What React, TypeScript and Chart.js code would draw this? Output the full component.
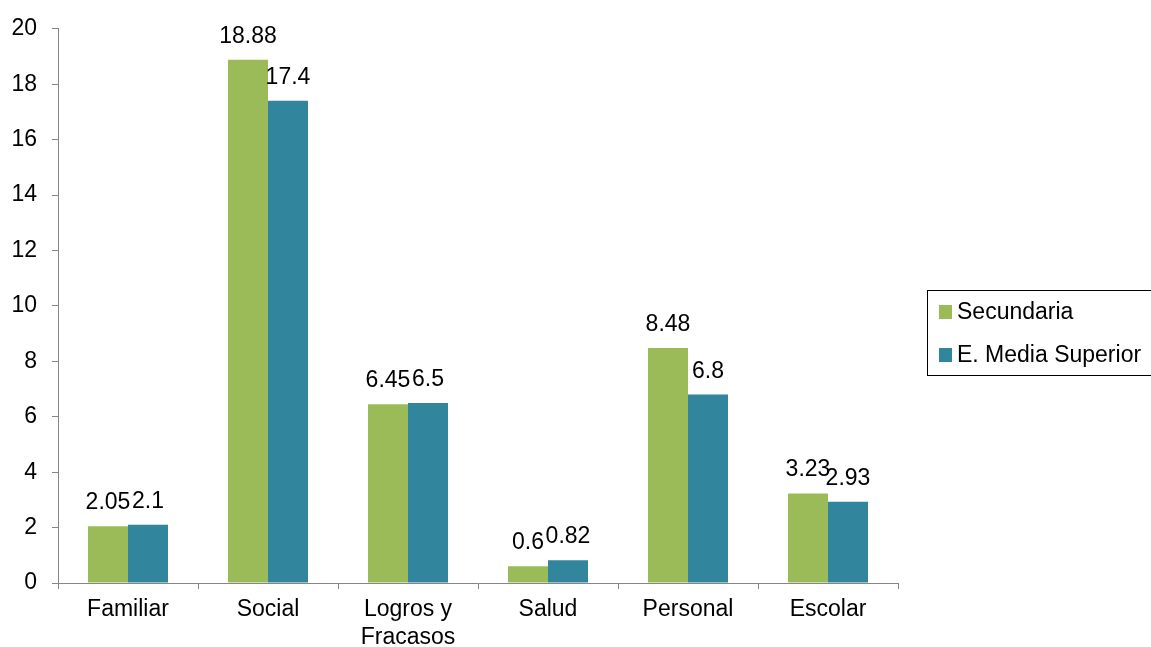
import React, { useEffect, useRef } from "react";
import { Chart, registerables } from "chart.js";

Chart.register(...registerables);

const categories: (string | string[])[] = ["Familiar", "Social", ["Logros y", "Fracasos"], "Salud", "Personal", "Escolar"];
const secundaria = [2.05, 18.88, 6.45, 0.6, 8.48, 3.23];
const mediaSuperior = [2.1, 17.4, 6.5, 0.82, 6.8, 2.93];
const seriesNames = ["Secundaria", "E. Media Superior"];
const seriesColors = ["#9BBB59", "#31859C"];
const yTickMin = 0;
const yTickMax = 20;
const yTickStep = 2;

const FONT = "'Liberation Sans', Arial, sans-serif";
const FS = 23;

const dataLabelPlugin = {
  id: "dataLabels",
  afterDatasetsDraw(chart: any) {
    const ctx = chart.ctx;
    ctx.save();
    ctx.font = `${FS}px ${FONT}`;
    ctx.fillStyle = "#000";
    ctx.textAlign = "center";
    ctx.textBaseline = "alphabetic";
    chart.data.datasets.forEach((ds: any, i: number) => {
      const meta = chart.getDatasetMeta(i);
      meta.data.forEach((bar: any, j: number) => {
        ctx.fillText(String(ds.data[j]), bar.x, bar.y - 17);
      });
    });
    ctx.restore();
  },
};

const legendBoxPlugin = {
  id: "legendBox",
  afterDraw(chart: any) {
    const ctx = chart.ctx;
    ctx.save();
    ctx.strokeStyle = "#000";
    ctx.lineWidth = 1;
    ctx.strokeRect(927.5, 290.5, 240, 85);
    ctx.font = `${FS}px ${FONT}`;
    ctx.textBaseline = "middle";
    ctx.textAlign = "left";
    chart.data.datasets.forEach((ds: any, i: number) => {
      const cy = 312 + i * 43;
      ctx.fillStyle = ds.backgroundColor;
      ctx.fillRect(939, cy - 7, 13, 14);
      ctx.fillStyle = "#000";
      ctx.fillText(ds.label, 957, cy + 1);
    });
    ctx.restore();
  },
};

export default function App() {
  const ref = useRef<HTMLCanvasElement>(null);
  useEffect(() => {
    if (!ref.current) return;
    const chart = new Chart(ref.current, {
      type: "bar",
      data: {
        labels: categories,
        datasets: [
          { label: seriesNames[0], data: secundaria, backgroundColor: seriesColors[0], borderWidth: 0 },
          { label: seriesNames[1], data: mediaSuperior, backgroundColor: seriesColors[1], borderWidth: 0 },
        ],
      },
      options: {
        animation: false,
        responsive: false,
        maintainAspectRatio: false,
        layout: { padding: { top: 26, right: 253, left: 0, bottom: 0 } },
        plugins: { legend: { display: false }, tooltip: { enabled: false } },
        datasets: { bar: { categoryPercentage: 80 / 140, barPercentage: 1 } },
        scales: {
          x: {
            grid: { offset: true, drawOnChartArea: false, drawTicks: true, tickLength: 6, color: "#868686" },
            border: { color: "#868686", width: 1 },
            ticks: { color: "#000", font: { family: FONT, size: FS, lineHeight: 1.22 }, padding: 7, maxRotation: 0, autoSkip: false },
            afterFit: (s: any) => { s.height = 64; },
          },
          y: {
            min: yTickMin,
            max: yTickMax,
            grid: { drawOnChartArea: false, drawTicks: true, tickLength: 6, color: "#868686" },
            border: { color: "#868686", width: 1 },
            ticks: { stepSize: yTickStep, color: "#000", font: { family: FONT, size: FS }, padding: 15 },
            afterFit: (s: any) => { s.width = 58; },
          },
        },
      },
      plugins: [dataLabelPlugin, legendBoxPlugin],
    });
    return () => chart.destroy();
  }, []);
  return (
    <div style={{ position: "absolute", left: 0, top: 0, width: 1151, height: 647, background: "#fff" }}>
      <canvas ref={ref} width={1151} height={647} />
    </div>
  );
}
